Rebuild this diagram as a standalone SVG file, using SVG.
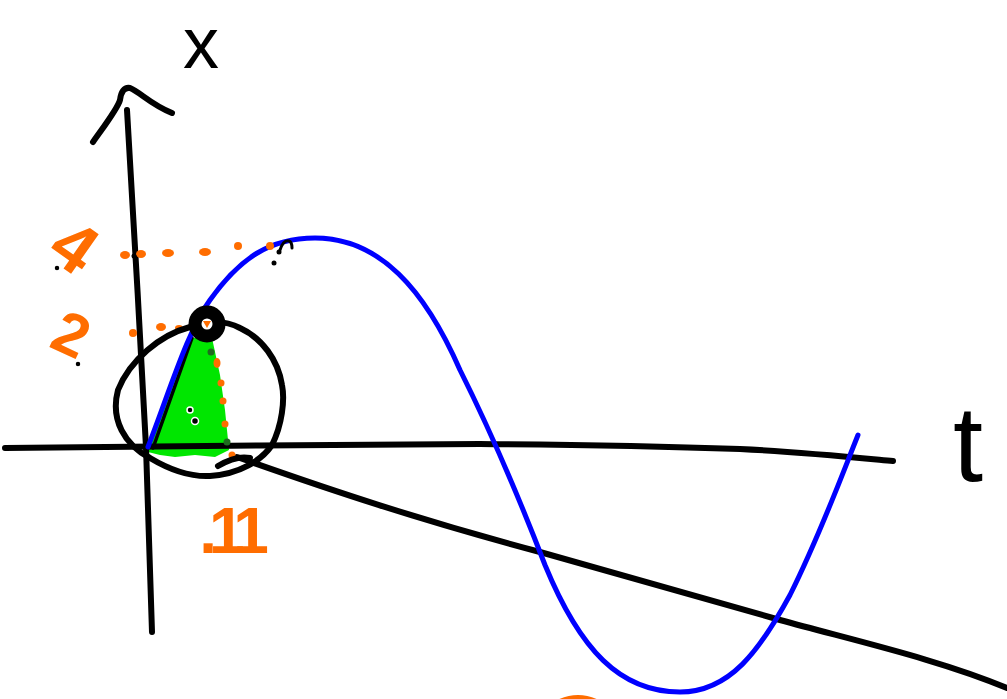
<svg xmlns="http://www.w3.org/2000/svg" width="1007" height="699" viewBox="0 0 1007 699">
<style>
.ink{fill:none;stroke:#000;stroke-width:6;stroke-linecap:round;stroke-linejoin:round}
.blue{fill:none;stroke:#0000ff;stroke-width:5;stroke-linecap:round}
.or{fill:#ff6d00}
.dg{fill:#1f6b1f}
.dot{fill:#000;stroke:#fff;stroke-width:1.5}
.lbl{font-family:"Liberation Sans",Arial,sans-serif;text-anchor:middle}
.olbl{font-family:"Liberation Sans",Arial,sans-serif;text-anchor:middle;fill:#ff6d00;font-weight:bold}
</style>
<rect width="1007" height="699" fill="#fff"/>

<g id="green-triangle">
<polygon points="148,452 152,440 190,338 212,338 220,375 225,410 229,450 215,457 195,455 175,457 160,455" fill="#00e600"/>
<line x1="153" y1="448" x2="192" y2="338" stroke="#000" stroke-width="3.5" stroke-linecap="round"/>
</g>

<g id="axes">
<path class="ink" d="M127,110 C134,230 140,330 146,447 C148,520 150,580 152,632"/>
<path class="ink" d="M93,142 C105,125 118,108 120,100 C121,92 124,87 130,88 C140,92 150,104 172,113"/>
<path class="ink" d="M5,448 C150,446 330,445 480,444 C600,445 680,447 740,449 C800,452 850,457 893,461"/>
<path class="ink" d="M237,457 C330,490 420,520 540,552 C640,580 720,603 780,620 C860,642 940,660 1007,688"/>
</g>

<g id="curve">
<path class="blue" d="M148,447 C170,390 188,330 210,300 C240,258 270,238 315,238 C380,238 425,290 460,370 C490,430 520,500 545,565 C580,650 620,692 680,692 C730,692 760,650 790,595 C820,535 840,480 858,435"/>
</g>

<g id="dotted-guides">
<ellipse class="or" cx="125" cy="255" rx="5" ry="4"/>
<ellipse class="or" cx="141" cy="254" rx="5" ry="4"/>
<ellipse class="or" cx="168" cy="253" rx="6" ry="4"/>
<ellipse class="or" cx="205" cy="252" rx="6" ry="4"/>
<ellipse class="or" cx="238" cy="246" rx="4" ry="4"/>
<ellipse class="or" cx="270" cy="246" rx="4" ry="4"/>
<ellipse class="or" cx="133" cy="333" rx="4" ry="4"/>
<ellipse class="or" cx="161" cy="327" rx="5" ry="4"/>
<ellipse class="or" cx="179" cy="328" rx="4" ry="3"/>
<circle class="dg" cx="211" cy="352" r="3.5"/>
<ellipse class="or" cx="217" cy="363" rx="3.5" ry="5"/>
<circle class="or" cx="221" cy="383" r="3.5"/>
<circle class="or" cx="223" cy="401" r="3.5"/>
<circle class="or" cx="225" cy="424" r="3.5"/>
<circle class="dg" cx="227" cy="442" r="3.5"/>
<circle class="or" cx="232" cy="455" r="3.5"/>
</g>

<g id="circle-mark">
<path class="ink" d="M190,327 C160,335 130,360 118,390 C110,420 125,445 150,458 C170,470 190,477 210,476 C240,474 262,460 272,445 C282,425 285,400 282,385 C278,360 262,338 240,328 C225,320 205,320 190,327 Z"/>
<path class="ink" d="M218,466 C228,460 240,456 250,458"/>
<circle cx="207" cy="324" r="12" fill="#fff" stroke="#000" stroke-width="13"/>
<polygon points="203,321 211,321 207,328" fill="#ff6d00"/>
</g>

<g id="marks">
<path d="M280,250 C282,244 285,240 289,241 C292,242 292,246 292,248" fill="none" stroke="#000" stroke-width="3" stroke-linecap="round"/>
<circle cx="279" cy="252" r="2.5"/>
<circle cx="274" cy="263" r="2.5"/>
<circle cx="134" cy="256" r="2.5"/>
<circle class="dot" cx="57" cy="268" r="3"/>
<circle class="dot" cx="78" cy="364" r="3"/>
<circle class="dot" cx="190" cy="410" r="3"/>
<circle class="dot" cx="195" cy="421" r="3.5"/>
<path d="M554,704 Q578,690 602,704" fill="none" stroke="#ff6d00" stroke-width="4"/>
</g>

<g id="labels">
<text class="lbl" x="201" y="68" font-size="72">x</text>
<text class="lbl" x="968" y="481" font-size="108">t</text>
<text class="olbl" x="75" y="271" font-size="70" transform="rotate(35 75 246)">4</text>
<text class="olbl" x="72" y="355" font-size="60" transform="rotate(25 72 333)">2</text>
<text class="olbl" x="230" y="553" font-size="64" letter-spacing="-8">.11</text>
</g>
</svg>
